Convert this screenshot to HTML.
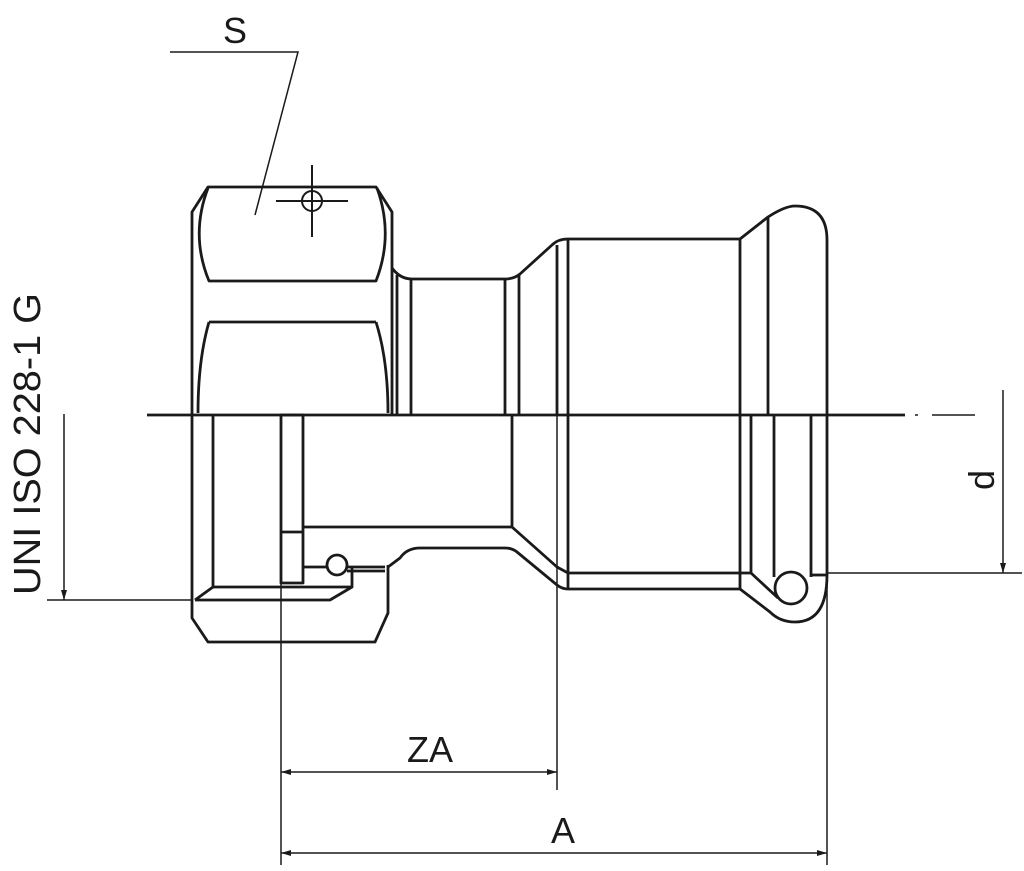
<!DOCTYPE html>
<html><head><meta charset="utf-8"><style>
html,body{margin:0;padding:0;background:#fff}
svg{display:block}
text{font-family:"Liberation Sans",sans-serif;fill:#1a1a1a}
</style></head><body>
<svg width="1024" height="871" viewBox="0 0 1024 871" xmlns="http://www.w3.org/2000/svg">
<defs>
<marker id="ar" viewBox="0 0 10 10" refX="10" refY="5" markerWidth="10" markerHeight="30" markerUnits="userSpaceOnUse" orient="auto-start-reverse"><path d="M0,2 L10,5 L0,8 z" fill="#1a1a1a"/></marker>
</defs>
<g fill="none" stroke="#1a1a1a" stroke-width="2.8" stroke-linejoin="round">
<line x1="147" y1="415" x2="905" y2="415"/>
<path d="M192,415 L192,212 L208,187 L376,187 L392,212 L392,415"/>
<path d="M208,188 Q190,235 209,281 L376,281 Q394,235 377,188"/>
<line x1="209" y1="322" x2="376" y2="322"/>
<path d="M209,322 Q198,360 198,413"/>
<path d="M376,322 Q388,360 388,413"/>
<path d="M392,268 Q400,279 412,279 L505,279 Q514,279 520,274 L552,245 Q558,239 568,239 L740,239 L768,217 Q785,206 795,206 Q827,206 827,240 L827,575 Q827,622 795,622 Q780,622 770,612 L740,589 L568,589 Q562,589 557,585 L517,552 Q512,548 505,548 L420,548 Q407,548 400,558 L388,567"/>
<line x1="397" y1="275" x2="397" y2="415"/>
<line x1="411" y1="279" x2="411" y2="415"/>
<line x1="505" y1="279" x2="505" y2="415"/>
<line x1="519" y1="275" x2="519" y2="415"/>
<line x1="557" y1="245" x2="557" y2="415"/>
<line x1="568" y1="239" x2="568" y2="589"/>
<line x1="740" y1="239" x2="740" y2="589"/>
<line x1="768" y1="217" x2="768" y2="415"/>
<line x1="213" y1="415" x2="213" y2="587"/>
<rect x="281" y="415" width="22" height="168"/>
<line x1="281" y1="532" x2="303" y2="532"/>
<path d="M303,527 L512,527 L512,415"/>
<path d="M512,527 L557,567 L568,573 L740,573 L751,573 L778,598"/>
<line x1="751" y1="415" x2="751" y2="573"/>
<line x1="774" y1="415" x2="774" y2="577"/>
<line x1="811" y1="415" x2="811" y2="577"/>
<line x1="811" y1="575" x2="827" y2="575"/>
<circle cx="791" cy="588" r="16"/>
<path d="M303,567 L327,567"/>
<circle cx="337" cy="565" r="10"/>
<line x1="347" y1="567" x2="385" y2="567"/>
<line x1="347" y1="571" x2="385" y2="571"/>
<path d="M213,587 L352,587 L352,568"/>
<path d="M352,587 L330,600 L195,600"/>
<path d="M213,587 L195,600"/>
<path d="M192,415 L192,618 L208,642 L375,642 L388,613 L388,565"/>
</g>
<g fill="none" stroke="#1a1a1a" stroke-width="1.5">
<line x1="915" y1="415" x2="918" y2="415"/>
<line x1="932" y1="415" x2="975" y2="415"/>
<line x1="281" y1="583" x2="281" y2="865"/>
<line x1="557" y1="415" x2="557" y2="790"/>
<line x1="827" y1="575" x2="827" y2="865"/>
<line x1="281" y1="772" x2="557" y2="772" marker-start="url(#ar)" marker-end="url(#ar)"/>
<line x1="281" y1="853" x2="827" y2="853" marker-start="url(#ar)" marker-end="url(#ar)"/>
<line x1="64" y1="414" x2="64" y2="600" marker-end="url(#ar)"/>
<line x1="47" y1="600" x2="193" y2="600"/>
<line x1="1003" y1="390" x2="1003" y2="573" marker-end="url(#ar)"/>
<line x1="827" y1="573" x2="1022" y2="573"/>
<path d="M170,52 L298,52 L255,215"/>
<line x1="276" y1="201" x2="348" y2="201" stroke-width="2"/>
<line x1="312" y1="165" x2="312" y2="237" stroke-width="2"/>
<circle cx="312" cy="201" r="10" stroke-width="2"/>
</g>
<text x="235" y="43" font-size="36" text-anchor="middle">S</text>
<text x="430" y="762" font-size="36" text-anchor="middle">ZA</text>
<text x="563" y="843" font-size="36" text-anchor="middle">A</text>
<text transform="translate(40,595) rotate(-90)" font-size="38" textLength="302" lengthAdjust="spacingAndGlyphs">UNI ISO 228-1  G</text>
<text transform="translate(994,480) rotate(-90)" font-size="36" text-anchor="middle">d</text>
</svg>
</body></html>
